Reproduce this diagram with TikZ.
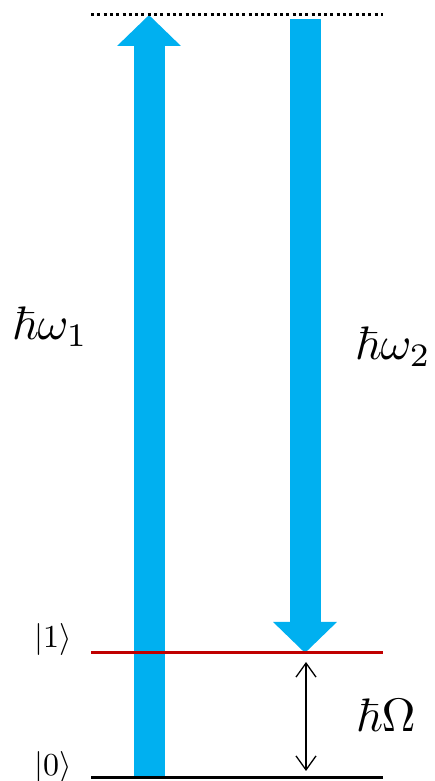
\documentclass[tikz,border=0pt]{standalone}
\usepackage{amsmath,amssymb}
\usepackage{xcolor}
\usepackage{tikz}
\usetikzlibrary{arrows.meta}
\definecolor{photonblue}{HTML}{00B0F0}
\definecolor{levelred}{HTML}{C00000}

\begin{document}
\begin{tikzpicture}[x=1pt,y=1pt,
  level line/.style={line width=3pt},
  photon/.style={photonblue,line width=31pt,-{Triangle[width=62pt,length=31pt]}},
  gap arrow/.style={line width=1.3pt,{Straight Barb[width=20pt,length=14pt]}-{Straight Barb[width=20pt,length=14pt]}},
  big label/.style={inner sep=0pt,scale=4.7},
  ket label/.style={inner sep=0pt,scale=3.2}]
\useasboundingbox (0,0) rectangle (435,781);
% level end points
\coordinate (g0L) at (91,3);
\coordinate (g0R) at (383,3);
\coordinate (e1L) at (91,128);
\coordinate (e1R) at (383,128);
\coordinate (vL) at (91,766);
\coordinate (vR) at (383,766);
% photon arrows
\coordinate (upStart) at (149,2);
\coordinate (upEnd) at (149,766);
\coordinate (downStart) at (305,762);
\coordinate (downEnd) at (305,128);
\draw[photon] (upStart) -- (upEnd);
\draw[photon] (downStart) -- (downEnd);
% levels
\draw[level line,levelred] (e1L) -- (e1R);
\draw[level line,black] (g0L) -- (g0R);
\draw[level line,dash pattern=on 3pt off 3.3pt] (vL) -- (vR);
% splitting
\coordinate (gapTop) at (306,119);
\coordinate (gapBot) at (306,10);
\draw[gap arrow] (gapTop) -- (gapBot);
% labels
\node[big label] (w1) at (50,454) {$\hbar\omega_1$};
\node[big label] (w2) at (393,434) {$\hbar\omega_2$};
\node[big label] (om) at (386,66) {$\hbar\Omega$};
\node[ket label] (k1) at (53,141) {$|1\rangle$};
\node[ket label] (k0) at (53,13) {$|0\rangle$};
\end{tikzpicture}
\end{document}
